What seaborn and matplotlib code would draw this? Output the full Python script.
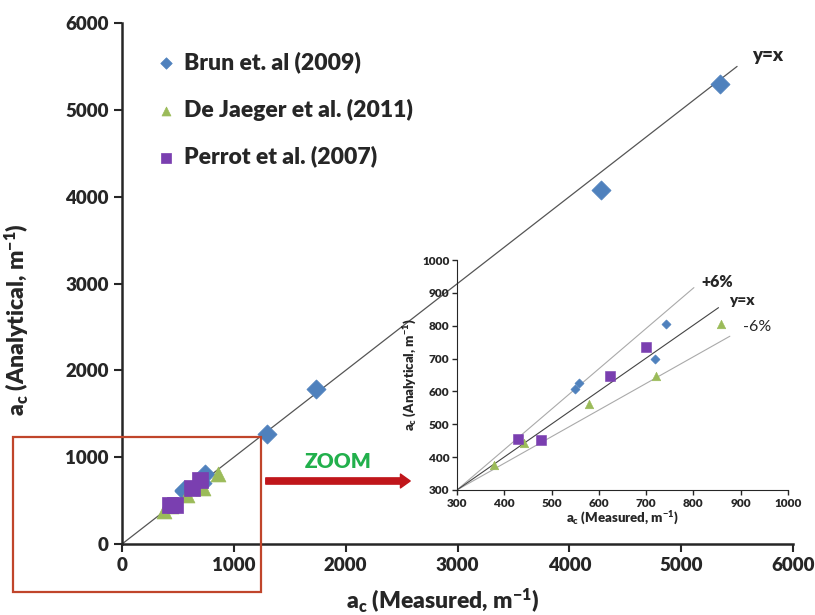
import matplotlib.pyplot as plt
from matplotlib.patches import Rectangle, FancyArrowPatch
import pandas as pd
import seaborn as sns

brun_x = [550, 558, 718, 743, 1300, 1735, 4280, 5350]
brun_y = [606, 625, 699, 805, 1265, 1785, 4080, 5300]
jaeger_x = [379, 441, 580, 720, 859]
jaeger_y = [376, 442, 562, 648, 805]
perrot_x = [430, 477, 623, 700]
perrot_y = [455, 452, 646, 735]

series = ["Brun et. al (2009)", "De Jaeger et al. (2011)", "Perrot et al. (2007)"]
colores = ["#4F81BD", "#9BBB59", "#7A3FB0"]
marcadores = ["D", "^", "s"]

# rectas de referencia (inicio, fin)
linea_main_x = [0, 5500]
linea_main_y = [0, 5500]
linea_yx_x = [300, 853]
linea_yx_y = [300, 855]
linea_mas_x = [300, 801]
linea_mas_y = [300, 916]
linea_menos_x = [300, 877]
linea_menos_y = [300, 768]

main_ticks = [0, 1000, 2000, 3000, 4000, 5000, 6000]
zoom_ticks = [300, 400, 500, 600, 700, 800, 900, 1000]

PESO = "heavy"

sns.set_style("ticks")
plt.rcParams["font.family"] = ["Lato", "DejaVu Sans"]
plt.rcParams["font.weight"] = PESO
plt.rcParams["mathtext.fontset"] = "custom"
plt.rcParams["mathtext.bf"] = "Lato:heavy"
plt.rcParams["mathtext.rm"] = "Lato:heavy"
plt.rcParams["mathtext.default"] = "bf"

frames = []
for nombre, xs, ys in zip(series, [brun_x, jaeger_x, perrot_x], [brun_y, jaeger_y, perrot_y]):
    frames.append(pd.DataFrame({"x": xs, "y": ys, "serie": nombre}))
df = pd.concat(frames, ignore_index=True)

fig = plt.figure(figsize=(8.15, 6.15), dpi=100)
ax = fig.add_axes([0.1497, 0.1154, 0.8233, 0.8472])

sns.lineplot(x=linea_main_x, y=linea_main_y, color="#555555", lw=0.9, ax=ax)
tamanos_main = [95, 115, 140]
for nombre, col, mk, s in zip(series, colores, marcadores, tamanos_main):
    sub = df[df["serie"] == nombre]
    sns.scatterplot(data=sub, x="x", y="y", color=col, marker=mk, s=s,
                    edgecolor=col, linewidth=0.5, label=nombre, ax=ax, zorder=3)

ax.set_xlim(0, 6000)
ax.set_ylim(0, 6000)
ax.set_xticks(main_ticks)
ax.set_yticks(main_ticks)
ax.tick_params(labelsize=13.5, width=1.5, length=6, direction="out")
for lab in ax.get_xticklabels() + ax.get_yticklabels():
    lab.set_fontweight(PESO)
for sp in ["left", "bottom"]:
    ax.spines[sp].set_linewidth(1.8)
sns.despine(ax=ax)
ax.set_xlabel(r"a$_c$ (Measured, m$^{-1}$)", fontsize=16.5, fontweight=PESO)
ax.set_ylabel(r"a$_c$ (Analytical, m$^{-1}$)", fontsize=16.5, fontweight=PESO)
ax.xaxis.set_label_coords(0.478, -0.083)
ax.yaxis.set_label_coords(-0.135, 0.43)
ax.text(5770, 5620, "y=x", fontsize=13.5, fontweight=PESO, ha="center", va="center")

leg = ax.legend(loc="upper left", bbox_to_anchor=(0.015, 0.985), frameon=False,
                fontsize=16.5, markerscale=0.6, labelspacing=1.1, handletextpad=0.15,
                handlelength=1.2)
for t in leg.get_texts():
    t.set_fontweight(PESO)

# recuadro de zoom
ins = fig.add_axes([0.5607, 0.2033, 0.4062, 0.3739])
ins.patch.set_alpha(0)
sns.lineplot(x=linea_mas_x, y=linea_mas_y, color="#AAAAAA", lw=0.8, ax=ins)
sns.lineplot(x=linea_menos_x, y=linea_menos_y, color="#AAAAAA", lw=0.8, ax=ins)
sns.lineplot(x=linea_yx_x, y=linea_yx_y, color="#444444", lw=0.8, ax=ins)
tamanos_zoom = [22, 38, 60]
for nombre, col, mk, s in zip(series, colores, marcadores, tamanos_zoom):
    sub = df[df["serie"] == nombre]
    sns.scatterplot(data=sub, x="x", y="y", color=col, marker=mk, s=s,
                    edgecolor=col, linewidth=0.4, ax=ins, zorder=3, legend=False)
ins.set_xlim(300, 1000)
ins.set_ylim(300, 1000)
ins.set_xticks(zoom_ticks)
ins.set_yticks(zoom_ticks)
ins.tick_params(labelsize=8.5, width=1, length=3.5, direction="out", pad=2)
for lab in ins.get_xticklabels() + ins.get_yticklabels():
    lab.set_fontweight(PESO)
sns.despine(ax=ins)
ins.set_xlabel(r"a$_c$ (Measured, m$^{-1}$)", fontsize=9.5, fontweight=PESO, labelpad=1)
ins.set_ylabel(r"a$_c$ (Analytical, m$^{-1}$)", fontsize=9.5, fontweight=PESO, labelpad=2)
ins.text(851, 933, "+6%", fontsize=11.5, fontweight=PESO, ha="center", va="center")
ins.text(902, 878, "y=x", fontsize=11, fontweight=PESO, ha="center", va="center")
ins.text(934, 796, "-6%", fontsize=11.5, fontweight="normal", ha="center", va="center")

fig.add_artist(Rectangle((0.016, 0.037), 0.304, 0.252, transform=fig.transFigure,
                         fill=False, ec="#C0452B", lw=1.6))
fig.add_artist(FancyArrowPatch((0.3227, 0.2179), (0.5067, 0.2179), transform=fig.transFigure,
                               arrowstyle="simple,head_length=7,head_width=10,tail_width=4.5",
                               color="#C0161B", mutation_scale=1))
fig.text(0.415, 0.250, "ZOOM", color="#22B04C", fontsize=15, fontweight=PESO,
         ha="center", va="center")

plt.savefig("out.png", dpi=100)
